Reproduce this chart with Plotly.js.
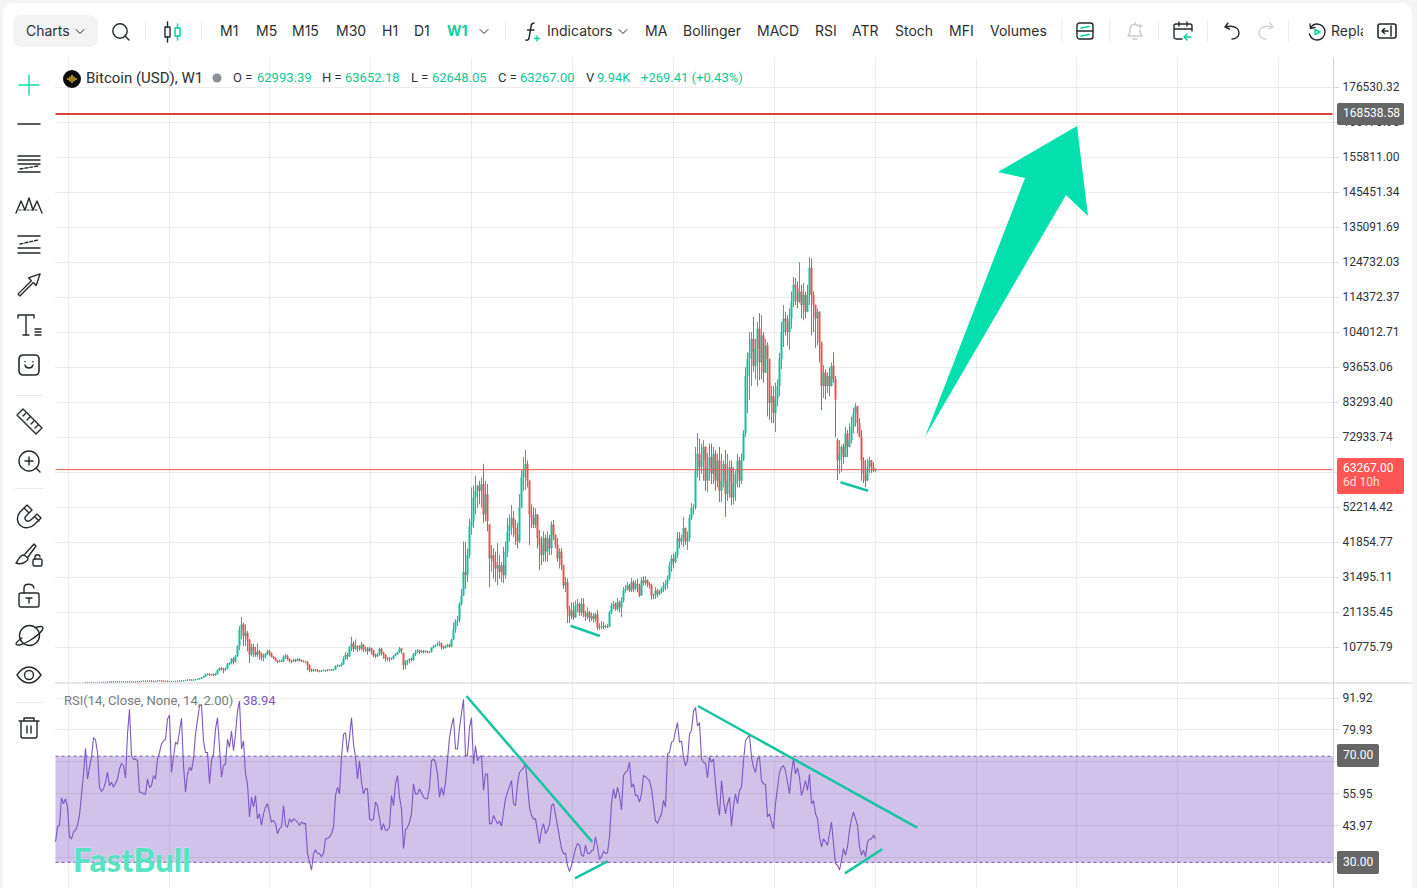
<!DOCTYPE html>
<html><head><meta charset="utf-8">
<script src="https://cdn.plot.ly/plotly-3.0.1.min.js"></script>
<style>
html,body{margin:0;padding:0;width:1417px;height:888px;overflow:hidden;background:#f4f4f5;font-family:Inter,sans-serif}
#card{position:absolute;left:3px;top:3px;width:1409px;height:885px;background:#fff;border-radius:10px 10px 0 0}
#chart{position:absolute;left:0;top:0;width:1417px;height:888px}
.t{position:absolute;top:22px;font-size:14px;line-height:18px;color:#2b2f33;white-space:nowrap}
.pill{position:absolute;left:13px;top:15px;width:85px;height:32px;border-radius:8px;background:#f3f3f4}
.dv{position:absolute;top:20px;width:1px;height:22px;background:#eceded}
.hd{position:absolute;left:15px;width:28px;height:1px;background:#e9e9e9}
svg.i{position:absolute;fill:none;stroke:#24292d;stroke-width:1.4;stroke-linecap:round;stroke-linejoin:round;overflow:visible}
</style></head><body>
<div id="card"></div>
<div id="chart"></div>
<div class="pill"></div>
<span class="t" style="left:26px">Charts</span>
<svg class="i" style="left:75px;top:28px" width="10" height="7"><path d="M1 1.5L5 5.5L9 1.5" stroke-width="1"/></svg>
<svg class="i" style="left:111px;top:22px" width="20" height="20"><circle cx="9" cy="9" r="7.2"/><path d="M14 14L18 18"/></svg>
<div class="dv" style="left:145px"></div>
<svg class="i" style="left:163px;top:21px" width="20" height="22"><rect x="2" y="6" width="5" height="10"/><path d="M4.5 1V6M4.5 16V21"/><rect x="12" y="7" width="5" height="8" stroke="#00d2a0"/><path d="M14.5 3V7M14.5 15V19" stroke="#00d2a0"/></svg>
<div class="dv" style="left:201px"></div>
<span class="t" style="left:220px">M1</span><span class="t" style="left:256px">M5</span><span class="t" style="left:292px">M15</span><span class="t" style="left:336px">M30</span><span class="t" style="left:382px">H1</span><span class="t" style="left:414px">D1</span><span class="t" style="left:447px;color:#0fd0a0;font-weight:700">W1</span>
<svg class="i" style="left:479px;top:28px" width="10" height="7"><path d="M1 1.5L5 5.5L9 1.5" stroke-width="1"/></svg>
<div class="dv" style="left:505px"></div>
<svg class="i" style="left:525px;top:21px" width="18" height="22"><path d="M9 2C6 2 6 5 5.5 9L4 17C3.6 19 2.5 19.5 1 19M2.5 9H9"/><path d="M12 15V20M9.5 17.5H14.5" stroke="#00d2a0"/></svg>
<span class="t" style="left:547px">Indicators</span>
<svg class="i" style="left:618px;top:28px" width="10" height="7"><path d="M1 1.5L5 5.5L9 1.5" stroke-width="1"/></svg>
<span class="t" style="left:645px">MA</span><span class="t" style="left:683px">Bollinger</span><span class="t" style="left:757px">MACD</span><span class="t" style="left:815px">RSI</span><span class="t" style="left:852px">ATR</span><span class="t" style="left:895px">Stoch</span><span class="t" style="left:949px">MFI</span><span class="t" style="left:990px">Volumes</span>
<div class="dv" style="left:1061px"></div>
<svg class="i" style="left:1076px;top:22px" width="18" height="18"><rect x="1" y="1" width="16" height="16" rx="2.5"/><path d="M1 9H17"/><path d="M5 6L13 4.5M5 14L13 12.5" stroke="#00d2a0"/></svg>
<div class="dv" style="left:1109px"></div>
<svg class="i" style="left:1125px;top:21px;stroke:#c9cccf" width="20" height="20"><path d="M3 15C5 13 5 11 5 8.5C5 5.5 7 3.5 10 3.5C11 3.5 12 3.8 12.8 4.4M15 9C15 11 15 13 17 15H3M8 18H12M10 1.5V3.5M15 3V7M13 5H17"/></svg>
<div class="dv" style="left:1158px"></div>
<svg class="i" style="left:1173px;top:21px" width="20" height="20"><path d="M9 18H3C2 18 1 17 1 16V5C1 4 2 3 3 3H17C18 3 19 4 19 5V10M1 8H19M6 1V5M14 1V5"/><path d="M18 16H11M14 13L11 16L14 19" stroke="#00d2a0"/></svg>
<div class="dv" style="left:1207px"></div>
<svg class="i" style="left:1224px;top:22px" width="17" height="18"><path d="M4 1L1 5L5.5 7M1.5 5C3 4.5 6 4 8.5 4.5C12 5 15 7.5 15 11C15 14.5 12 17 8 17"/></svg>
<svg class="i" style="left:1257px;top:22px;stroke:#cfd2d4" width="17" height="18"><path d="M13 1L16 5L11.5 7M15.5 5C14 4.5 11 4 8.5 4.5C5 5 2 7.5 2 11C2 14.5 5 17 9 17"/></svg>
<div class="dv" style="left:1288px"></div>
<svg class="i" style="left:1307px;top:22px" width="20" height="20"><path d="M3 2L3.5 6.5L8 5.5M3.5 6C5 3.5 7 2 10 2C14.5 2 18 5.5 18 10C18 14.5 14.5 18 10 18C6.5 18 3.5 15.5 2.5 12"/><path d="M8 7.5L13 10L8 12.5Z" stroke="#00d2a0"/></svg>
<div style="position:absolute;left:1331px;top:22px;width:32px;height:18px;overflow:hidden"><span class="t" style="left:0;top:0">Replay</span></div>
<svg class="i" style="left:1377px;top:23px" width="20" height="16"><rect x="1" y="1" width="18" height="14" rx="2" stroke-width="1.6"/><path d="M14 3V13M11 8H5M7.5 5.5L5 8L7.5 10.5" stroke-width="1.5"/></svg>

<svg class="i" style="left:19px;top:75px;stroke:#0fdcab" width="20" height="20"><path d="M10 0V20M0 10H20"/></svg>
<svg class="i" style="left:18px;top:123px" width="22" height="2"><path d="M0 1H22"/></svg>
<svg class="i" style="left:18px;top:155px" width="22" height="18"><path d="M0 1H22M0 5H22M0 9H22M0 17H22"/><path d="M2 14L20 11" stroke-dasharray="3 2"/></svg>
<svg class="i" style="left:16px;top:195px" width="26" height="20"><path d="M0 18L5 6L9 15L13 3L17 15L21 6L26 18"/><path d="M3 15H23" stroke-dasharray="2 2" stroke-width="1"/></svg>
<svg class="i" style="left:18px;top:235px" width="22" height="20"><path d="M0 1H22M0 13H22M0 18H22"/><path d="M2 9L20 5" stroke-dasharray="3 2"/></svg>
<svg class="i" style="left:17px;top:273px" width="24" height="24"><path d="M1 22L3 24L17 10L20 13L24 1L12 5L15 8Z" transform="scale(.96)"/></svg>
<svg class="i" style="left:18px;top:314px" width="24" height="22"><path d="M0 1V4M0 1H16V4M8 1V21M5 21H11"/><path d="M17 15H23M17 18H23M17 21H23"/></svg>
<svg class="i" style="left:19px;top:355px" width="20" height="20"><rect x="0" y="0" width="20" height="20" rx="4" stroke-width="1.6"/><path d="M6 10C7 14 13 14 14 10M6 6.5V6.8M14 6.5V6.8"/></svg>
<div class="hd" style="top:395px"></div>
<svg class="i" style="left:16px;top:408px" width="27" height="27"><path d="M1 7L7 1L26 20L20 26ZM7 8L9.5 5.5M11 12L14 9M15 16L17.5 13.5M19 20L22 17"/></svg>
<svg class="i" style="left:18px;top:450px" width="24" height="24"><circle cx="11" cy="11" r="10"/><path d="M18 18L22 22M7 11H15M11 7V15"/></svg>
<div class="hd" style="top:488px"></div>
<svg class="i" style="left:17px;top:503px" width="25" height="25"><path d="M10 2L3 9C-1 14 0 20 4 23C8 26 14 25 18 21L24 15L20 11L15 16C13 18 12 19 10 18C8 17 7 15 9 13L15 7ZM7 5L12 10M17.500 13.500L22 18"/></svg>
<svg class="i" style="left:15px;top:543px" width="28" height="25"><path d="M9 12C4 12 4 17 1 20C6 22 13 19 13 15ZM10 11L19 1L21 3L13 14"/><rect x="18" y="16" width="9" height="7" rx="1.500"/><path d="M20 16V14C20 11 25 11 25 14"/></svg>
<svg class="i" style="left:19px;top:583px" width="20" height="25"><rect x="0" y="10" width="20" height="14" rx="2"/><path d="M5 10V5C5 0 14 0 15 5M7 15H13M10 15V20" stroke-width="1.4"/></svg>
<svg class="i" style="left:16px;top:624px" width="27" height="23"><circle cx="13.500" cy="11.500" r="10"/><path d="M20 3.500C24 2 27 2 27 4C27 7 20 13 13 17C6 21 1 22 0 20C0 18 3 16 6 14"/></svg>
<svg class="i" style="left:16px;top:666px" width="26" height="18"><path d="M1 9C5 3 9 1 13 1C17 1 21 3 25 9C21 15 17 17 13 17C9 17 5 15 1 9Z"/><circle cx="13" cy="9" r="4.500"/></svg>
<div class="hd" style="top:702px"></div>
<svg class="i" style="left:19px;top:717px" width="20" height="22"><path d="M0 4H20M5 4V1H15V4M2 4V19C2 20 3 21 4 21H16C17 21 18 20 18 19V4M8 9V16M12 9V16"/></svg>
<svg style="position:absolute;left:63px;top:70px" width="18" height="18"><circle cx="9" cy="9" r="9" fill="#0a0a0a"/><path d="M5 8V10M7 6.500V11.500M9 5V13M11 6.500V11.500M13 8V10" stroke="#f2c230" stroke-width="1.300"/></svg>
<svg style="position:absolute;left:212px;top:73px" width="10" height="10"><circle cx="5" cy="5" r="4.500" fill="#8e9099"/></svg>
<script>
// weekly bars, USD
const barHigh=[310,300,290,280,260,260,280,300,310,350,
360,400,500,480,450,460,440,440,460,470,
470,460,430,440,450,480,480,560,640,700,
680,700,760,780,680,680,780,830,820,730,
680,680,640,630,620,630,660,720,760,800,
950,1050,1150,1100,1050,1250,1350,1500,1850,2300,
2900,3000,3000,2800,2900,3100,4200,4800,4800,4600,
4700,6000,6300,7500,7800,8400,11300,17000,19700,18000,
17500,15500,11900,11800,11700,10800,11900,10000,9200,8800,
9000,10000,9900,9000,8200,7700,7000,7000,7100,8300,
8700,8500,7400,7000,7300,7300,7500,7300,7000,6800,
6600,6500,5600,4400,4400,4300,4200,3900,4000,4100,
4000,4200,4300,4200,4300,5300,5700,5500,6200,8000,
9300,9000,11000,13800,12500,13000,11300,11300,12300,11600,
10900,10700,10800,10500,9900,8800,9000,10600,10500,9300,
8500,7900,7700,7700,8300,9000,9400,10800,10500,9100,
6900,7000,7400,7700,8900,9900,10200,10000,9900,9900,
9800,9700,9500,10600,11300,11500,12300,12500,12100,11100,
11300,11700,11700,13200,18000,19000,20000,24000,28000,42000,
41800,40000,48800,58000,58500,61500,58000,60000,61000,65000,
60000,59000,47000,41000,40000,39000,41500,38000,36000,40400,
42000,49000,50000,52800,51000,48500,47500,56000,63100,67000,
69100,66000,60000,53000,52200,51800,50000,45400,43500,45000,
44000,45000,44000,48000,48400,44000,43000,40000,40000,35000,
31500,31000,23000,24000,24000,24500,25000,24000,25300,25200,
21500,22500,21500,21000,20800,21000,21700,17800,18500,18200,
17400,17500,21500,23800,24400,24000,25300,24500,25500,28500,
29200,30000,29500,31200,30500,30500,31000,29500,31500,31700,
31700,30800,30000,29500,26500,28500,28000,27700,28500,30000,
30600,32000,36000,38000,38500,39000,44800,44800,44000,49300,
46000,45000,50000,53400,53000,70000,74100,72500,71000,72000,
70000,68200,71000,71000,70000,69000,68000,70000,68000,66000,
69100,68000,66000,66000,64000,63000,68000,67000,68000,75000,
93600,98000,104000,104000,108500,102000,107000,109600,109000,104000,
102000,101000,95500,88000,88000,89000,90000,97800,107000,112000,
110000,109000,111000,116000,120300,120000,119000,124700,118000,118500,
116000,118000,126200,125800,116000,112000,111000,110000,98700,94200,
93000,92000,93500,95000,98000,91000,72600,72000,70600,71000,
75900,75000,77000,79000,81500,83000,80000,78500,75000,67000,
66100,66500,67000,65500,65500,63652.18];
const barLow=[270,260,250,230,210,220,230,240,260,280,
300,320,360,370,360,370,390,400,410,420,
430,400,380,390,410,420,430,440,520,580,
580,610,650,620,570,590,630,740,660,590,
600,570,570,560,570,590,600,630,690,730,
770,880,950,800,900,1000,1150,1200,1400,1700,
1950,2400,2200,2300,2100,2300,2700,3700,3800,3000,
3600,4300,5400,5600,5600,6100,8000,9800,13000,11000,
11000,9500,6000,8000,7800,7900,7800,7000,6700,6500,
7400,8400,8200,7700,7200,6500,6000,6200,6300,6400,
7200,6800,6200,6000,6300,6300,6500,6500,6400,6200,
6200,3900,3300,3400,3500,3500,3400,3300,3400,3600,
3500,3600,3800,3700,3900,4000,4900,4900,5100,5600,
7100,7000,7800,9500,9300,9800,9300,9700,9700,9300,
9300,8500,9300,8700,7700,7500,7800,8200,8200,7300,
6500,6600,6500,6900,7100,8000,8500,9000,8800,4000,
4200,5400,6000,6500,6700,8100,8900,8600,9000,8800,
9100,8900,9000,9200,10400,10800,11000,11000,10000,10100,
10400,10700,10600,10700,13000,15000,17000,18000,23000,26000,
28000,30000,37000,44000,46000,50000,52000,53000,52000,47500,
48000,45000,28500,33000,31000,30000,29000,31000,30000,29700,
31000,37400,42000,44000,43300,41000,40000,41500,53000,57000,
57300,58000,41000,46000,46000,46000,40000,33600,35000,36000,
36000,36000,38000,38000,42400,40000,36000,34000,33600,28000,
27000,17900,17900,19000,18800,20000,21000,20000,20000,19600,
18500,19000,18200,18500,18000,18200,15800,15800,16000,16000,
16300,16400,16600,20500,22000,21500,21500,21000,19700,24000,
26800,27500,27000,27000,27000,27500,27000,25500,26000,29000,
29000,28500,28000,24800,25000,25000,25500,26000,26500,27000,
27500,28000,30500,33000,34000,35500,37000,40000,41000,40400,
41000,39500,42000,48400,50000,51500,61000,60000,62000,60000,
57000,56600,60000,59000,59000,57000,58000,53700,53700,58000,
49300,54000,55000,52800,53000,54000,58000,58000,59000,66000,
73000,80000,84000,88000,92200,90000,88000,89800,90000,89000,
92000,79000,78000,77100,77000,74400,82000,85000,93000,99600,
103000,100000,98700,105000,111400,112000,111000,112600,108000,107500,
108000,110000,112000,103000,104000,99300,100000,95000,80900,84500,
84000,86000,85000,88000,89000,72900,60200,62000,62600,65000,
68200,67000,70000,71000,74000,76000,74000,73000,60000,59300,
58100,60500,62300,62300,62500,62648.05];
const barClose=[290,280,270,260,230,240,250,270,280,320,
330,370,450,420,380,430,410,420,430,440,
450,420,400,420,430,460,450,530,600,650,
620,670,720,660,600,640,760,800,720,610,
660,580,620,570,600,610,640,700,740,780,
900,1000,1050,920,1020,1200,1250,1450,1750,2000,
2600,2800,2500,2700,2400,2800,3900,4500,4300,4000,
4400,5700,6000,7300,6500,8000,11000,16000,17500,14000,
15000,13000,8500,10800,9500,8400,9500,8800,7600,8000,
8700,9500,9000,7900,7500,6800,6400,6700,6500,7800,
8200,7300,6600,6500,7000,6700,7200,6900,6600,6500,
6400,5400,3900,3700,4100,4000,3700,3500,3800,3900,
3700,4000,4100,3900,4100,5100,5300,5200,5700,7300,
8500,8000,10800,11800,10200,11000,10800,10300,11500,10000,
10300,9600,10400,9800,8300,8000,8600,10200,9200,8500,
7300,7500,7200,7300,8200,8700,9200,10300,9700,5400,
6500,6800,7300,6900,8700,9200,9700,9300,9600,9300,
9500,9200,9300,10500,11000,11300,11500,11800,10800,10500,
11000,11400,10900,13000,16000,18400,18700,23500,26000,33000,
32000,38000,46500,48000,55000,57000,58500,57000,59000,50000,
56000,48000,37000,38000,36000,34000,35000,33000,35000,32000,
39000,45000,47000,49000,46000,44000,42000,52000,61000,63000,
65000,60000,50000,49000,47000,50000,43000,41000,38000,43000,
39000,43000,40000,47000,44000,41000,37000,39000,35000,29000,
30000,22000,20000,21500,19500,23000,23500,21000,23500,20500,
19800,21000,19300,20000,19000,20500,16500,16800,17000,16600,
17000,16800,21000,23000,23500,22000,24000,22500,24500,27500,
28000,29000,27500,30000,28000,29500,29000,26000,30500,29800,
30500,29500,29000,26000,26000,27500,26500,27000,28000,29000,
29500,31000,35000,37000,36000,38000,43000,42000,43000,46000,
42000,43000,49000,52000,52000,63000,68000,64000,66000,70000,
60000,64000,67000,62000,68000,60000,66000,57000,60000,65000,
56000,60000,64000,55000,59000,62000,66000,60000,66000,74000,
91000,96000,98000,102000,94000,99000,105000,95000,103000,92000,
100000,96000,83000,85000,80000,84000,88000,96000,104000,108000,
107000,104000,108000,113000,118000,117000,113000,116000,112000,115000,
110000,115000,123000,115000,112000,108000,110000,101000,88000,92000,
88000,91000,88000,94000,90000,84000,66000,68000,70000,67000,
74000,70000,72000,76000,80000,82000,77000,73000,66000,62000,
60000,64000,66000,64000,62993,63267];
const barOpen=[280,290,280,270,260,230,240,250,270,280,
320,330,370,450,420,380,430,410,420,430,
440,450,420,400,420,430,460,450,530,600,
650,620,670,720,660,600,640,760,800,720,
610,660,580,620,570,600,610,640,700,740,
780,900,1000,1050,920,1020,1200,1250,1450,1750,
2000,2600,2800,2500,2700,2400,2800,3900,4500,4300,
4000,4400,5700,6000,7300,6500,8000,11000,16000,17500,
14000,15000,13000,8500,10800,9500,8400,9500,8800,7600,
8000,8700,9500,9000,7900,7500,6800,6400,6700,6500,
7800,8200,7300,6600,6500,7000,6700,7200,6900,6600,
6500,6400,5400,3900,3700,4100,4000,3700,3500,3800,
3900,3700,4000,4100,3900,4100,5100,5300,5200,5700,
7300,8500,8000,10800,11800,10200,11000,10800,10300,11500,
10000,10300,9600,10400,9800,8300,8000,8600,10200,9200,
8500,7300,7500,7200,7300,8200,8700,9200,10300,9000,
5400,6500,6800,7300,6900,8700,9200,9700,9300,9600,
9300,9500,9200,9300,10500,11000,11300,11500,11800,10800,
10500,11000,11400,10900,13000,16000,18400,18700,23500,26000,
33000,32000,38000,46500,48000,55000,57000,58500,57000,59000,
50000,56000,47000,37000,38000,36000,34000,35000,33000,35000,
32000,39000,45000,47000,49000,46000,44000,42000,52000,61000,
63000,65000,60000,50000,49000,47000,50000,43000,41000,38000,
43000,39000,43000,40000,47000,44000,41000,37000,39000,35000,
29000,30000,22000,20000,21500,19500,23000,23500,21000,23500,
20500,19800,21000,19300,20000,19000,20500,16500,16800,17000,
16600,17000,16800,21000,23000,23500,22000,24000,22500,24500,
27500,28000,29000,27500,30000,28000,29500,29000,26000,30500,
29800,30500,29500,29000,26000,26000,27500,26500,27000,28000,
29000,29500,31000,35000,37000,36000,38000,43000,42000,43000,
46000,42000,43000,49000,52000,52000,63000,68000,64000,66000,
70000,60000,64000,67000,62000,68000,60000,66000,57000,60000,
65000,56000,60000,64000,55000,59000,62000,66000,60000,66000,
74000,91000,96000,98000,102000,94000,99000,105000,95000,103000,
92000,100000,96000,83000,85000,80000,84000,88000,96000,104000,
108000,107000,104000,108000,113000,118000,117000,113000,116000,112000,
115000,110000,115000,123000,115000,112000,108000,110000,101000,88000,
92000,88000,91000,88000,94000,90000,72000,66000,68000,70000,
67000,74000,70000,72000,76000,80000,82000,77000,73000,66000,
62000,60000,64000,66000,64000,62993.39];
const rsiValues=[37.7,43.3,44.0,54.3,52.1,54.0,50.8,39.6,38.9,41.4,42.1,44.0,47.7,54.6,63.3,73.0,61.4,65.8,69.6,77.0,76.1,71.4,58.3,56.7,57.7,60.2,63.9,58.9,60.2,58.3,59.6,61.4,65.2,67.3,66.4,61.8,78.3,87.7,70.2,68.9,68.9,68.3,56.4,56.4,55.8,55.8,61.4,58.3,58.9,62.7,61.4,68.9,71.4,74.6,75.8,76.4,83.9,85.5,63.9,70.2,75.2,74.6,78.9,84.3,66.4,56.4,63.3,65.8,64.6,68.9,78.3,84.5,88.9,89.5,75.8,71.4,71.4,59.6,68.3,70.8,80.2,84.5,72.1,62.1,66.4,67.1,76.4,73.3,79.5,72.1,78.3,87.0,90.8,72.7,75.8,63.3,59.6,47.1,54.6,50.8,55.2,46.4,48.3,44.0,48.3,50.8,52.1,48.9,45.2,45.8,44.6,40.8,42.7,43.3,51.4,44.0,43.3,46.4,45.2,46.4,45.8,45.2,44.0,45.2,44.6,44.6,33.4,29.6,27.1,33.3,34.6,33.4,33.3,32.1,33.4,38.9,38.9,39.6,40.8,43.3,55.2,58.3,55.8,69.6,78.3,78.9,71.4,77.0,84.5,74.6,69.6,61.4,68.3,60.2,55.8,57.7,57.7,46.4,45.8,46.4,52.7,51.4,47.1,42.1,44.6,42.1,42.1,43.3,55.2,51.4,59.6,62.7,54.6,50.2,35.2,42.1,43.3,45.2,48.3,59.6,55.8,55.8,57.7,55.8,54.6,54.0,54.0,58.3,68.3,68.9,67.7,63.3,54.6,58.3,55.2,60.2,69.6,77.0,81.4,84.5,72.7,72.7,80.8,85.8,91.4,70.2,70.2,80.8,84.5,67.1,73.9,68.3,69.6,70.2,57.1,63.3,63.3,44.6,
44.6,47.7,45.8,44.6,45.6,43.6,48.9,54.0,56.4,58.9,60.8,52.1,51.4,59.6,63.9,64.8,65.6,67.3,57.7,50.8,47.7,46.4,46.4,42.1,37.1,42.1,44.6,40.8,42.1,44.0,51.4,52.1,47.7,44.0,40.2,35.2,33.3,33.4,28.9,26.5,28.9,32.7,35.2,37.1,36.5,32.7,32.3,36.5,33.4,33.3,34.3,34.8,39.6,35.8,31.1,32.1,34.2,33.4,33.6,39.6,52.1,57.7,54.0,58.3,55.2,49.8,62.7,63.9,64.6,67.7,58.3,59.6,55.2,55.2,52.7,55.8,62.7,62.3,61.4,60.8,57.7,50.8,45.6,44.8,46.4,48.3,53.3,50.8,70.8,71.4,75.2,75.8,79.5,82.7,75.2,75.8,69.6,66.4,68.3,78.3,79.8,87.0,88.3,81.4,82.7,68.9,67.7,67.3,61.8,69.6,67.7,68.9,59.6,52.1,47.7,60.8,53.3,48.3,52.1,54.6,43.6,51.4,55.8,52.1,57.1,58.3,68.3,75.8,77.0,78.1,69.6,65.8,63.9,68.9,69.6,60.8,59.6,59.3,47.1,48.3,45.2,42.7,52.1,58.3,63.9,65.8,66.4,64.6,60.8,55.8,63.9,68.9,63.3,65.6,62.1,55.2,57.7,60.8,57.1,63.3,52.1,53.3,48.3,46.4,39.6,35.8,38.9,37.7,36.5,40.8,45.2,37.1,29.6,28.9,27.1,30.8,35.2,32.7,35.8,42.1,46.4,48.9,46.4,44.0,35.8,32.7,34.6,32.1,37.7,38.7,38.9,40.2,38.94];
const priceTickVals=[176530.32,166170.95,155811.00,145451.34,135091.69,124732.03,114372.37,104012.71,93653.06,83293.40,72933.74,62574.08,52214.42,41854.77,31495.11,21135.45,10775.79];
const priceTickText=['176530.32','166170.95','155811.00','145451.34','135091.69','124732.03','114372.37','104012.71','93653.06','83293.40','72933.74','62574.08','52214.42','41854.77','31495.11','21135.45','10775.79'];
const rsiTickVals=[91.92,79.93,67.94,55.95,43.97,31.99];
const rsiTickText=['91.92','79.93','','55.95','43.97',''];
const weekGrid=[-8.75,41.75,92.15,142.55,193.05,243.45,293.95,344.35,394.75,445.25,495.65,546.15,596.55];
const targetPrice=168538.58, lastPrice=63267.00, rsiUpper=70, rsiLower=30;
const arrowX=[495.75,501.25,490.25,419.75,469.75,456.25,495.75];
const arrowY=[164986,138346,144562,72930,149594,151370,164986];
const priceLineA={x:[242.5,257.2],y:[17075,14026]};
const priceLineB={x:[377.5,391.3],y:[59521,57035]};
const rsiLineA={x:[190.5,253.35],y:[92.67,37.7]};
const rsiLineB={x:[244.7,261.2],y:[24.0,30.47]};
const rsiLineC={x:[306.2,415.8],y:[88.92,43.1]};
const rsiLineD={x:[379.7,398.3],y:[25.86,34.97]};

const GREEN='#10c09c',RED='#e8504f',TEAL='#19c4a2',PURPLE='#7e57c2';
const barX=barClose.map((_,i)=>i);
const rsiX=rsiValues.map((_,i)=>395-(rsiValues.length-1-i));
const seg=(l,ax)=>({type:'scatter',mode:'lines',x:l.x,y:l.y,xaxis:'x',yaxis:ax,line:{color:TEAL,width:2.5},hoverinfo:'skip'});
const traces=[
 {type:'candlestick',x:barX,open:barOpen,high:barHigh,low:barLow,close:barClose,xaxis:'x',yaxis:'y',whiskerwidth:0,width:0.2,
  increasing:{line:{color:GREEN,width:1},fillcolor:GREEN},decreasing:{line:{color:RED,width:1},fillcolor:RED},hoverinfo:'skip'},
 {type:'scatter',mode:'lines',x:rsiX,y:rsiValues,xaxis:'x',yaxis:'y2',line:{color:PURPLE,width:1.1},hoverinfo:'skip'},
 seg(priceLineA,'y'),seg(priceLineB,'y'),seg(rsiLineA,'y2'),seg(rsiLineB,'y2'),seg(rsiLineC,'y2'),seg(rsiLineD,'y2'),
 {type:'scatter',mode:'lines',x:arrowX,y:arrowY,xaxis:'x',yaxis:'y',fill:'toself',fillcolor:'#03e0ae',line:{color:'#03e0ae',width:0},hoverinfo:'skip'}
];
const X=p=>p/1417, Y=p=>1-p/888;
const lab=(px,py,text,color,size,fam)=>({xref:'paper',yref:'paper',x:X(px),y:Y(py),xanchor:'left',yanchor:'middle',showarrow:false,text,font:{family:fam||'Roboto',size:size||13,color:color||'#2f3338'}});
const G='#0fc794';
const badgeRect=(l,t,r,b,bg)=>({type:'path',xref:'paper',yref:'paper',fillcolor:bg,line:{width:0},layer:'above',
 path:`M${X(l+2)},${Y(t)}L${X(r-2)},${Y(t)}Q${X(r)},${Y(t)},${X(r)},${Y(t+2)}L${X(r)},${Y(b-2)}Q${X(r)},${Y(b)},${X(r-2)},${Y(b)}L${X(l+2)},${Y(b)}Q${X(l)},${Y(b)},${X(l)},${Y(b-2)}L${X(l)},${Y(t+2)}Q${X(l)},${Y(t)},${X(l+2)},${Y(t)}Z`});
const annotations=[
 lab(84,78,'Bitcoin (USD), W1','#2b2f33',15,'Roboto'),
 lab(231,78,'O ='),lab(255,78,'62993.39',G),lab(320,78,'H ='),lab(343,78,'63652.18',G),
 lab(409,78,'L ='),lab(430,78,'62648.05',G),lab(496,78,'C ='),lab(518,78,'63267.00',G),
 lab(584,78,'V'),lab(595,78,'9.94K',G),lab(639,78,'+269.41 (+0.43%)',G),
 lab(62,700,'RSI(14, Close, None, 14, 2.00)','#777b80',13),lab(241,700,'38.94',PURPLE,13),
 {xref:'paper',yref:'paper',x:X(71),y:Y(859),xanchor:'left',yanchor:'middle',showarrow:false,text:'FastBull',font:{family:'Lato',size:33,weight:900,color:'rgba(64,224,184,.85)',shadow:'0 0 2px #e8fff8'}},
 lab(1341,113,'168538.58','#ffffff',12),
 lab(1341,468,'63267.00','#ffffff',12),
 lab(1341,482,'6d 10h','rgba(255,255,255,.8)',12),
 lab(1341,755,'70.00','#ffffff',12),
 lab(1341,862,'30.00','#ffffff',12)
];
const shapes=[
 {type:'rect',xref:'x',yref:'y2',x0:-15,x1:624,y0:rsiLower,y1:rsiUpper,fillcolor:'rgba(126,87,194,.36)',line:{width:0},layer:'below'},
 {type:'line',xref:'x',yref:'y2',x0:-15,x1:624,y0:rsiUpper,y1:rsiUpper,line:{color:'#6f55a5',width:1,dash:'dot'},layer:'below'},
 {type:'line',xref:'x',yref:'y2',x0:-15,x1:624,y0:rsiLower,y1:rsiLower,line:{color:'#6f55a5',width:1,dash:'dot'},layer:'below'},
 {type:'line',xref:'x',yref:'y',x0:-15,x1:623.5,y0:targetPrice,y1:targetPrice,line:{color:'#d9453b',width:2}},
 {type:'line',xref:'x',yref:'y',x0:-15,x1:623.5,y0:lastPrice,y1:lastPrice,line:{color:'#e65a5a',width:1}},
 {type:'line',xref:'paper',yref:'paper',x0:X(55),x1:X(1412),y0:Y(683),y1:Y(683),line:{color:'#cfcfcf',width:1}},
 badgeRect(1337,103,1404,125,'#666666'),
 badgeRect(1337,458,1404,494,'#ff5555'),
 badgeRect(1337,744,1379,767,'#666666'),
 badgeRect(1337,851,1379,874,'#666666')
];
const GRID='rgba(0,0,0,.07)';
const yBase={side:'right',showline:true,linecolor:'#cfd1d3',linewidth:1,ticks:'outside',ticklen:5,tickcolor:'#dcdcdc',gridcolor:GRID,gridwidth:1,zeroline:false,tickmode:'array',ticklabelstandoff:1,tickfont:{family:'Roboto',size:12,color:'#2f3338'},anchor:'x',fixedrange:true};
const layout={width:1417,height:888,margin:{l:0,r:0,t:0,b:0},paper_bgcolor:'rgba(0,0,0,0)',plot_bgcolor:'rgba(0,0,0,0)',showlegend:false,
 xaxis:{domain:[X(55),X(1333)],range:[-15.25,623.75],tickmode:'array',tickvals:weekGrid,showticklabels:false,ticks:'',gridcolor:GRID,zeroline:false,showline:false,rangeslider:{visible:false},fixedrange:true},
 yaxis:Object.assign({},yBase,{domain:[Y(683),Y(58)],range:[119,185114],tickvals:priceTickVals,ticktext:priceTickText}),
 yaxis2:Object.assign({},yBase,{domain:[0,Y(684)],range:[20.35,97.2],tickvals:rsiTickVals,ticktext:rsiTickText}),
 annotations,shapes};
Plotly.newPlot('chart',traces,layout,{displayModeBar:false,staticPlot:true});
</script>
</body></html>
